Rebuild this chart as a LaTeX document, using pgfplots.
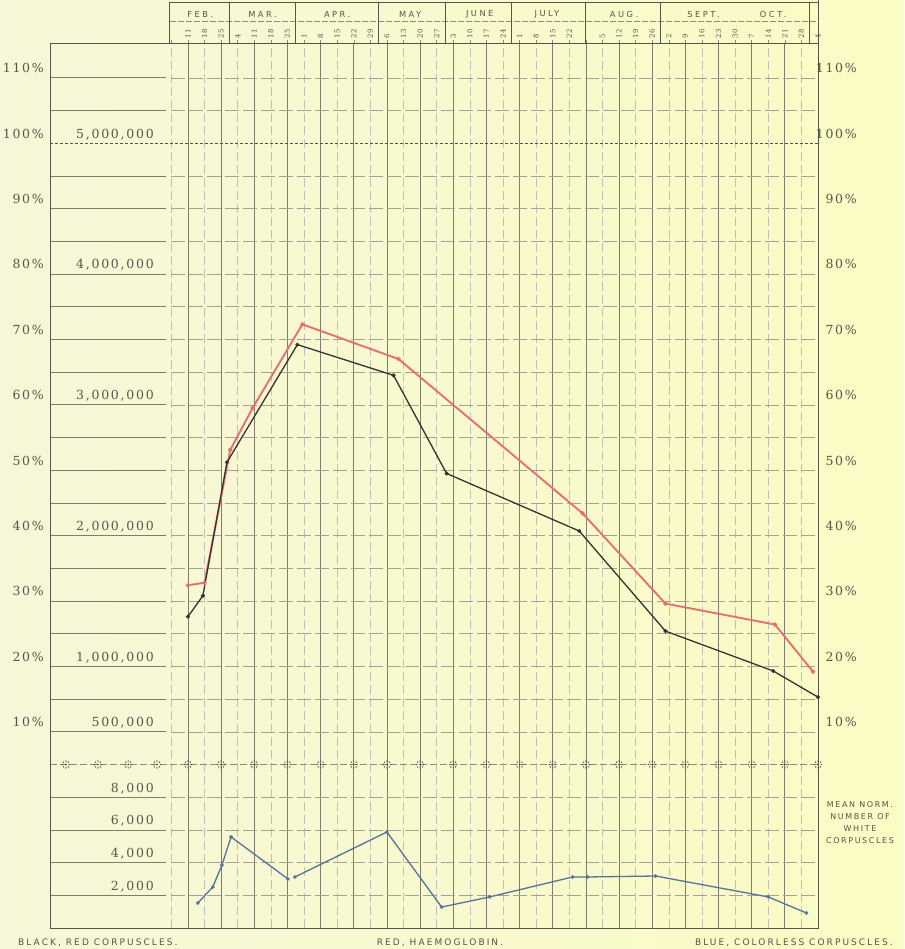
\documentclass[border=0pt]{standalone}
\usepackage{pgfplots}
\usepackage{pgfplotstable}
\pgfplotsset{compat=1.18}
\usepackage{fontspec}
\setmainfont{DejaVu Serif}
\newfontfamily\numfont[LetterSpace=14]{DejaVu Serif}
\newfontfamily\capsfont[LetterSpace=23]{DejaVu Sans}
\newfontfamily\notefont[LetterSpace=20]{DejaVu Sans}
\newfontfamily\monthfont[LetterSpace=30]{DejaVu Sans}
\newfontfamily\datefont[LetterSpace=20]{DejaVu Serif}

\definecolor{paperL}{RGB}{246,247,216}
\definecolor{paperR}{RGB}{251,251,196}
\definecolor{ink}{RGB}{85,85,75}
\definecolor{gridc}{RGB}{140,140,122}
\definecolor{blk}{RGB}{55,50,50}
\definecolor{redl}{RGB}{228,112,112}
\definecolor{bluel}{RGB}{85,115,155}

\pgfdeclareplotmark{dotring}{%
  \foreach \a in {0,45,...,315}{\pgfpathcircle{\pgfpointpolar{\a}{3.4pt}}{0.8pt}}%
  \pgfpathcircle{\pgfpointorigin}{1pt}%
  \pgfusepathqfill}

% red corpuscles, percent of 5,000,000 (black)
\pgfplotstableread{
wk p
0    27.6
0.9  30.8
2.35 51.2
6.6  69.2
12.4 64.5
15.6 49.5
23.6 40.7
28.8 25.4
35.3 19.3
38.0 15.3
}\blackdata
% haemoglobin, percent (red)
\pgfplotstableread{
wk p
0    32.4
1.0  32.8
2.55 53.1
3.9  59.5
6.9  72.3
12.7 67.0
23.8 43.4
28.8 29.6
35.4 26.4
37.7 19.2
}\reddata
% white corpuscles (blue)
\pgfplotstableread{
wk w
0.6  1530
1.5  2510
2.05 3850
2.6  5570
6.03 3000
}\blueA
\pgfplotstableread{
wk w
6.45 3120
12.0 5870
15.3 1280
18.2 1900
23.2 3120
24.1 3120
28.2 3180
35.0 1900
37.3 920
}\blueB

\begin{document}
\begin{tikzpicture}
\path[use as bounding box] (0,0) rectangle (904pt,949pt);
\shade[left color=paperL, right color=paperR] (0,0) rectangle (904pt,949pt);
\begin{axis}[at={(50pt,21pt)}, anchor=south west,
  x=16.58pt, y=32.7pt, xmin=-8.32, xmax=38, ymin=0, ymax=28.38,
  hide axis, clip=false]
% vertical grid lines
\pgfplotsinvokeforeach{0,2,...,36}{\draw[gridc!90!black, line width=0.7pt] (#1,0) -- (#1,27.06);}
\pgfplotsinvokeforeach{-1,1,...,37}{\draw[gridc!55, line width=0.5pt, dash pattern=on 9pt off 4pt] (#1,0) -- (#1,27.06);}
% horizontal grid lines
\pgfplotsinvokeforeach{1,2,3,4,6,7,8,9,10,11,12,13,14,15,16,17,18,19,20,21,22,23,25,26}{%
  \draw[gridc!80, line width=0.5pt, dash pattern=on 14pt off 4pt] (-1,#1) -- (38,#1);
  \draw[gridc!90!black, line width=0.7pt] (-8.32,#1) -- (-1.35,#1);}
% 100 % line
\draw[ink, line width=0.8pt, dash pattern=on 3pt off 2pt] (-8.32,24) -- (38,24);
% starred line
\draw[gridc, line width=0.6pt, dash pattern=on 7pt off 3pt] (-8.32,5) -- (38,5);
\addplot[only marks, mark=dotring, color=ink] coordinates {
(-7.36,5) (-5.43,5) (-3.6,5) (-1.87,5)
(0,5) (2,5) (4,5) (6,5) (8,5) (10,5) (12,5) (14,5) (16,5) (18,5) (20,5)
(22,5) (24,5) (26,5) (28,5) (30,5) (32,5) (34,5) (36,5) (38,5)};
% frame
\draw[ink, line width=0.9pt] (-8.32,27.06) -- (-8.32,0) -- (38,0) -- (38,28.38);
\draw[ink, line width=0.9pt] (-8.32,27.06) -- (38,27.06);
% header
\draw[ink, line width=0.8pt] (-1.1,27.06) -- (-1.1,28.32) -- (38,28.32);
\draw[gridc, line width=0.5pt, dash pattern=on 6pt off 2pt] (-1.1,27.74) -- (38,27.74);
\pgfplotsinvokeforeach{2.5,6.5,11.5,15.5,19.5,24,28.5,37.5}{\draw[ink, line width=0.8pt] (#1,27.06) -- (#1,28.32);}
\pgfplotsinvokeforeach{-1,0,...,37}{\draw[gridc, line width=0.5pt] (#1,27.06) -- (#1,27.16);}
\foreach \m/\w in {FEB./0.75, MAR./4.5, APR./9.0, MAY/13.4, JUNE/17.6, JULY/21.65, AUG./26.3, SEPT./31.1, OCT./35.3}{
  \edef\tmp{\noexpand\node[font=\noexpand\monthfont\noexpand\fontsize{8.3}{9}\noexpand\selectfont, text=ink, inner sep=0pt] at (axis cs:\w,27.93) {\m};}\tmp}
\foreach \d/\w in {11/0,18/1,25/2,4/3,11/4,18/5,25/6,1/7,8/8,15/9,22/10,29/11,6/12,13/13,20/14,27/15,3/16,10/17,17/18,24/19,1/20,8/21,15/22,22/23,5/25,12/26,19/27,26/28,2/29,9/30,16/31,23/32,30/33,7/34,14/35,21/36,28/37,4/38}{
  \edef\tmp{\noexpand\node[font=\noexpand\datefont\noexpand\fontsize{7}{8}\noexpand\selectfont, text=ink, rotate=90, anchor=west, inner sep=0pt] at (axis cs:\w,27.18) {\d};}\tmp}
% left & right percent labels
\foreach \p in {10,20,...,110}{
  \pgfmathsetmacro{\u}{\p/5+4}
  \edef\tmp{\noexpand\node[font=\noexpand\numfont\noexpand\fontsize{12.5}{13}\noexpand\selectfont, text=ink, anchor=base east, inner sep=0pt, xshift=-6pt, yshift=5pt] at (axis cs:-8.32,\u) {\p\noexpand\%};
  \noexpand\node[font=\noexpand\numfont\noexpand\fontsize{12.5}{13}\noexpand\selectfont, text=ink, anchor=base east, inner sep=0pt, xshift=39pt, yshift=5pt] at (axis cs:38,\u) {\p\noexpand\%};}\tmp}
% count labels
\foreach \t/\u in {{5,000,000}/24, {4,000,000}/20, {3,000,000}/16, {2,000,000}/12, {1,000,000}/8, {500,000}/6, {8,000}/4, {6,000}/3, {4,000}/2, {2,000}/1}{
  \edef\tmp{\noexpand\node[font=\noexpand\numfont\noexpand\fontsize{12.5}{13}\noexpand\selectfont, text=ink, anchor=base east, inner sep=0pt, yshift=5pt] at (axis cs:-2.05,\u) {\t};}\tmp}
% data
\addplot[color=bluel, line width=1.3pt, mark=*, mark size=1.1pt] table[x=wk, y expr=\thisrow{w}/2000] {\blueA};
\addplot[color=bluel, line width=1.3pt, mark=*, mark size=1.1pt] table[x=wk, y expr=\thisrow{w}/2000] {\blueB};
\addplot[color=redl, line width=1.9pt, mark=*, mark size=1.1pt] table[x=wk, y expr=\thisrow{p}/5+4] {\reddata};
\addplot[color=blk, line width=1.3pt, mark=*, mark size=1.3pt] table[x=wk, y expr=\thisrow{p}/5+4] {\blackdata};
\end{axis}
\node[font=\capsfont\fontsize{9}{10}\selectfont, text=ink, anchor=base west, inner sep=0pt] at (18pt,4pt) {BLACK, RED CORPUSCLES.};
\node[font=\capsfont\fontsize{9}{10}\selectfont, text=ink, anchor=base, inner sep=0pt] at (440pt,4pt) {RED, HAEMOGLOBIN.};
\node[font=\capsfont\fontsize{9}{10}\selectfont, text=ink, anchor=base east, inner sep=0pt] at (893pt,4pt) {BLUE, COLORLESS CORPUSCLES.};
\node[font=\notefont\fontsize{8}{12}\selectfont, text=ink, align=center, inner sep=0pt] at (860pt,126pt) {MEAN NORM.\\NUMBER OF\\WHITE\\CORPUSCLES};
\end{tikzpicture}
\end{document}
